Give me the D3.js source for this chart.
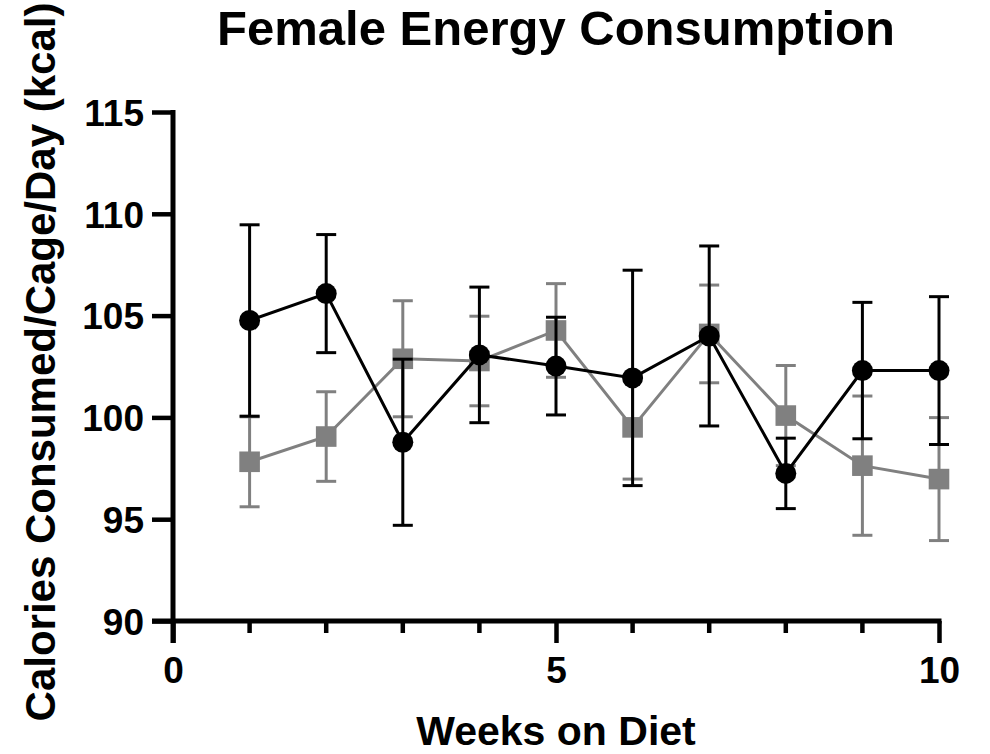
<!DOCTYPE html>
<html>
<head>
<meta charset="utf-8">
<script src="https://cdn.jsdelivr.net/npm/d3@7"></script>
<style>
  body { margin: 0; background: #fff; }
  text { font-family: "Liberation Sans", Arial, sans-serif; font-weight: bold; }
</style>
</head>
<body>
<div id="chart"></div>
<script>
// chart data
var weeks = [1, 2, 3, 4, 5, 6, 7, 8, 9, 10];
var blackMean = [104.76, 106.08, 98.78, 103.07, 102.52, 101.94, 104.0, 97.25, 102.3, 102.3];
var blackErr = [4.70, 2.90, 4.08, 3.33, 2.40, 5.29, 4.42, 1.73, 3.35, 3.63];
var grayMean = [97.82, 99.06, 102.88, 102.77, 104.27, 99.51, 104.1, 100.09, 97.63, 96.97];
var grayErr = [2.21, 2.20, 2.85, 2.20, 2.30, 2.54, 2.40, 2.46, 3.42, 3.02];
var yTicks = [90, 95, 100, 105, 110, 115];
var xMajor = [0, 5, 10];
var xMinor = [1, 2, 3, 4, 6, 7, 8, 9];

var svgWidth = 990;
var svgHeight = 754;

var margin = { top: 112, right: 51, bottom: 133, left: 173 };
var width = svgWidth - margin.left - margin.right;
var height = svgHeight - margin.top - margin.bottom;

var svg = d3.select("#chart")
  .append("svg")
  .attr("width", svgWidth)
  .attr("height", svgHeight);

var chartGroup = svg.append("g")
  .attr("transform", `translate(${margin.left}, ${margin.top})`);

var x = d3.scaleLinear().domain([0, 10]).range([0, width]);
var y = d3.scaleLinear().domain([90, 115]).range([height, 0]);

// axes
var leftAxis = d3.axisLeft(y).tickValues(yTicks).tickSize(21).tickPadding(8);
var yAxis = chartGroup.append("g").call(leftAxis);

var bottomAxis = d3.axisBottom(x).tickValues(xMajor).tickSize(22).tickPadding(14).tickFormat(d3.format("d"));
var xAxis = chartGroup.append("g")
  .attr("transform", `translate(0, ${height})`)
  .call(bottomAxis);

// minor x ticks
xAxis.selectAll(".minor")
  .data(xMinor)
  .enter()
  .append("line")
  .attr("x1", d => x(d))
  .attr("x2", d => x(d))
  .attr("y1", 0)
  .attr("y2", 12)
  .attr("stroke", "#000")
  .attr("stroke-width", 4.5);

[yAxis, xAxis].forEach(function(ax) {
  ax.select(".domain").remove();
  ax.selectAll(".tick line").attr("stroke", "#000").attr("stroke-width", 4.5);
  ax.selectAll(".tick text").attr("fill", "#000").style("font-size", "37px");
});

// axis lines
chartGroup.append("line")
  .attr("x1", 0).attr("x2", 0)
  .attr("y1", y(115) - 2).attr("y2", height + 22)
  .attr("stroke", "#000").attr("stroke-width", 5);
chartGroup.append("line")
  .attr("x1", -21).attr("x2", width + 2.5)
  .attr("y1", height).attr("y2", height)
  .attr("stroke", "#000").attr("stroke-width", 5);

yAxis.selectAll(".tick text").attr("dy", "0.36em");

// draw one series: error bars, line, symbols
function drawSeries(means, errs, color, shape) {
  var data = weeks.map((w, i) => ({ w: w, m: means[i], e: errs[i] }));
  var g = chartGroup.append("g");

  var bars = g.selectAll("g.err").data(data).enter().append("g");
  bars.append("line")
    .attr("x1", d => x(d.w)).attr("x2", d => x(d.w))
    .attr("y1", d => y(d.m + d.e)).attr("y2", d => y(d.m - d.e))
    .attr("stroke", color).attr("stroke-width", 3);
  bars.append("line")
    .attr("x1", d => x(d.w) - 10).attr("x2", d => x(d.w) + 10)
    .attr("y1", d => y(d.m + d.e)).attr("y2", d => y(d.m + d.e))
    .attr("stroke", color).attr("stroke-width", 3);
  bars.append("line")
    .attr("x1", d => x(d.w) - 10).attr("x2", d => x(d.w) + 10)
    .attr("y1", d => y(d.m - d.e)).attr("y2", d => y(d.m - d.e))
    .attr("stroke", color).attr("stroke-width", 3);

  var line = d3.line().x(d => x(d.w)).y(d => y(d.m));
  g.append("path")
    .datum(data)
    .attr("d", line)
    .attr("fill", "none")
    .attr("stroke", color)
    .attr("stroke-width", 3);

  if (shape === "circle") {
    g.selectAll("circle").data(data).enter().append("circle")
      .attr("cx", d => x(d.w)).attr("cy", d => y(d.m))
      .attr("r", 10.5).attr("fill", color);
  } else {
    g.selectAll("rect").data(data).enter().append("rect")
      .attr("x", d => x(d.w) - 10.3).attr("y", d => y(d.m) - 10.3)
      .attr("width", 20.6).attr("height", 20.6).attr("fill", color);
  }
}

drawSeries(grayMean, grayErr, "#808080", "square");
drawSeries(blackMean, blackErr, "#000", "circle");

// title and axis labels
svg.append("text")
  .attr("x", margin.left + width / 2)
  .attr("y", 45)
  .attr("text-anchor", "middle")
  .style("font-size", "49px")
  .text("Female Energy Consumption");

svg.append("text")
  .attr("x", margin.left + width / 2)
  .attr("y", 745)
  .attr("text-anchor", "middle")
  .style("font-size", "41px")
  .text("Weeks on Diet");

svg.append("text")
  .attr("transform", "rotate(-90)")
  .attr("x", -362)
  .attr("y", 55)
  .attr("text-anchor", "middle")
  .style("font-size", "42px")
  .text("Calories Consumed/Cage/Day (kcal)");
</script>
</body>
</html>
